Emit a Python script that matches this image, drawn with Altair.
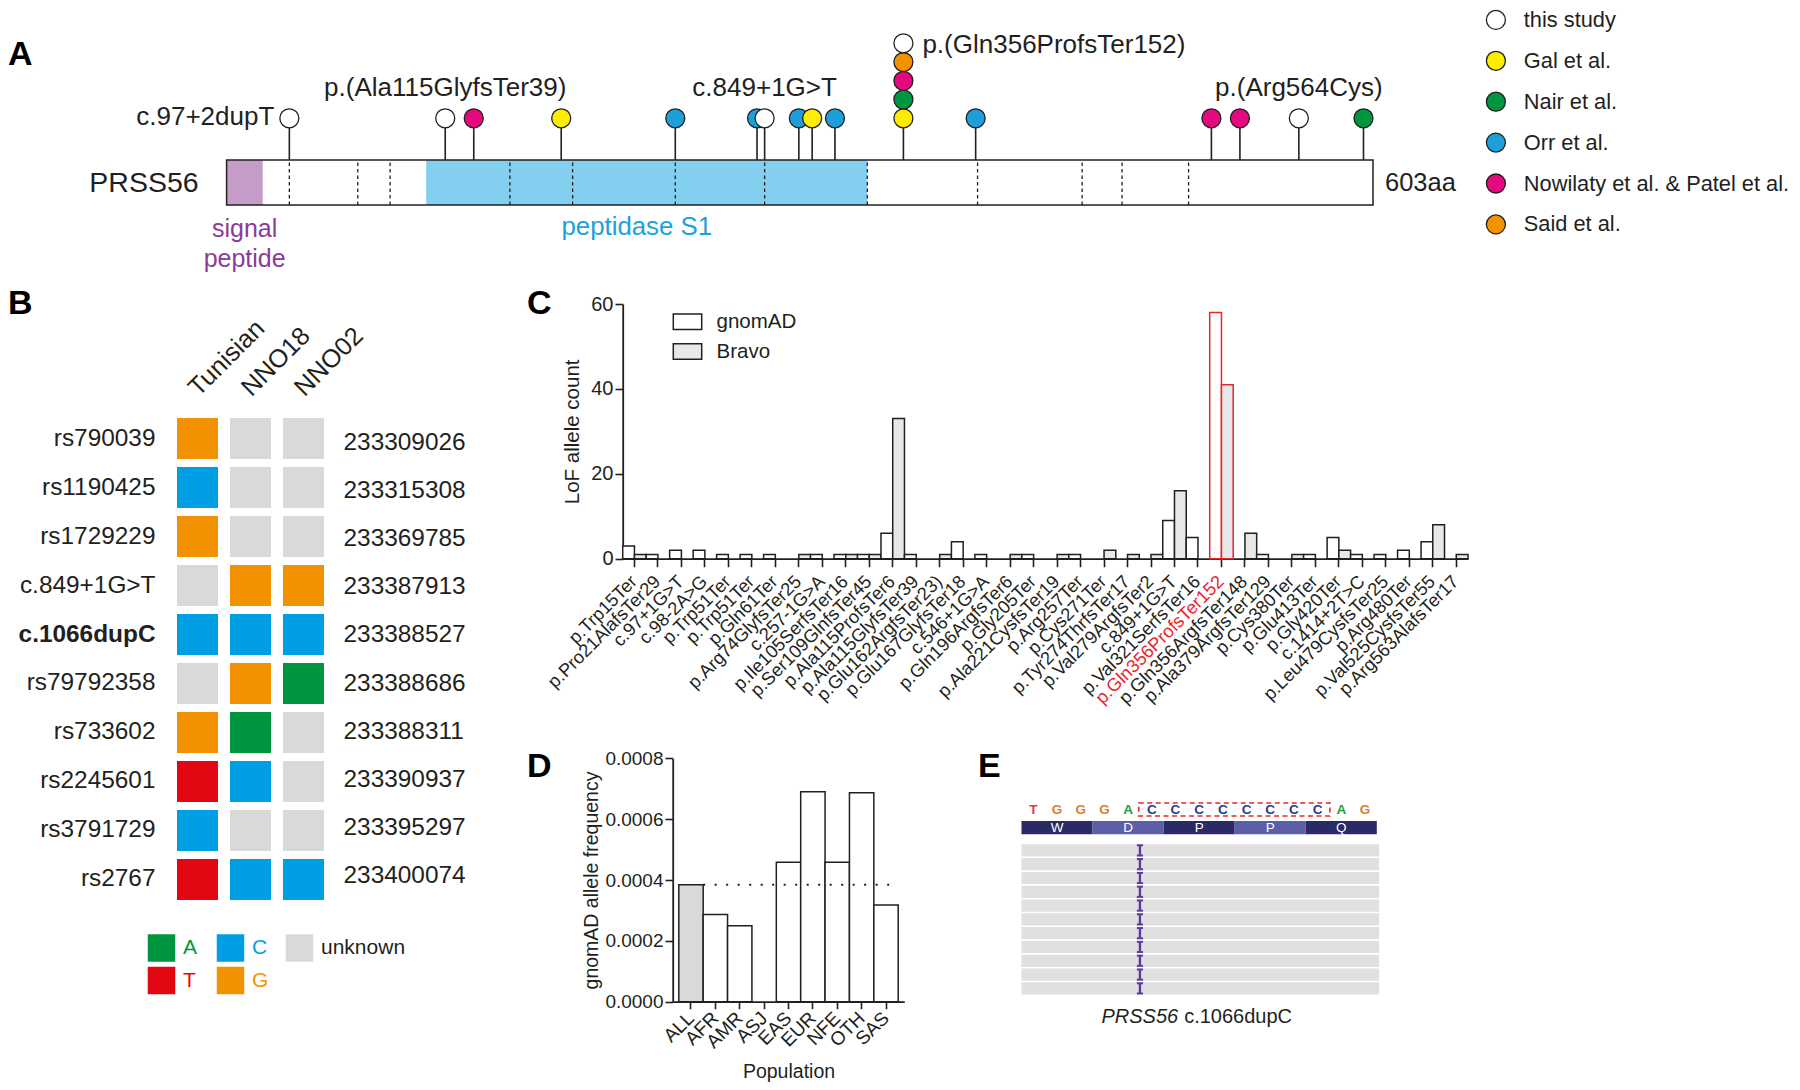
import altair as alt
import pandas as pd

FONT = "Liberation Sans"
INK = "#231F20"
RED = "#E8262A"

# ======================= DATA =======================
# ---- Panel A: PRSS56 protein (603 aa) and reported variants ----
PROTEIN_LEN = 603
signal_peptide = [0, 19]
peptidase_s1 = [105, 337]
exon_boundaries = [33, 69, 86, 149, 182, 236, 283, 337, 395, 450, 471, 506]
studies = ["this study", "Gal et al.", "Nair et al.", "Orr et al.",
           "Nowilaty et al. & Patel et al.", "Said et al."]
study_colors = ["#FFFFFF", "#FFED00", "#009640", "#1E9FD9", "#E5097F", "#F39200"]
variant_aa = [33, 115, 130, 176, 236, 279, 283, 301, 308, 320,
              356, 356, 356, 356, 356, 394, 518, 533, 564, 598]
variant_study = ["this study", "this study", "Nowilaty et al. & Patel et al.", "Gal et al.",
                 "Orr et al.", "Orr et al.", "this study", "Orr et al.", "Gal et al.", "Orr et al.",
                 "Gal et al.", "Nair et al.", "Nowilaty et al. & Patel et al.", "Said et al.", "this study",
                 "Orr et al.", "Nowilaty et al. & Patel et al.", "Nowilaty et al. & Patel et al.",
                 "this study", "Nair et al."]
variant_stack = [0, 0, 0, 0, 0, 0, 0, 0, 0, 0, 0, 1, 2, 3, 4, 0, 0, 0, 0, 0]
labelled_names = ["c.97+2dupT", "p.(Ala115GlyfsTer39)", "c.849+1G>T",
                  "p.(Gln356ProfsTer152)", "p.(Arg564Cys)"]
labelled_aa = [33, 115, 283, 356, 564]

# ---- Panel B: haplotypes ----
snp_ids = ["rs790039", "rs1190425", "rs1729229", "c.849+1G>T", "c.1066dupC",
           "rs79792358", "rs733602", "rs2245601", "rs3791729", "rs2767"]
snp_positions = ["233309026", "233315308", "233369785", "233387913", "233388527",
                 "233388686", "233388311", "233390937", "233395297", "233400074"]
samples = ["Tunisian", "NNO18", "NNO02"]
geno_tunisian = ["G", "C", "G", "unknown", "C", "unknown", "G", "T", "C", "T"]
geno_nno18 = ["unknown", "unknown", "unknown", "G", "C", "G", "A", "C", "unknown", "C"]
geno_nno02 = ["unknown", "unknown", "unknown", "G", "C", "A", "unknown", "unknown", "unknown", "C"]
allele_keys = ["A", "C", "unknown", "T", "G"]
allele_fill = ["#009640", "#009FE3", "#D9D9D9", "#E30613", "#F39200"]
allele_text = ["#009640", "#009FE3", INK, "#E30613", "#F39200"]

# ---- Panel C: LoF allele counts ----
c_variants = ["p.Trp15Ter", "p.Pro21AlafsTer29", "c.97+1G>T", "c.98-2A>G", "p.Trp51Ter",
              "p.Trp51Ter ", "p.Gln61Ter", "p.Arg74GlyfsTer25", "c.257-1G>A", "p.Ile105SerfsTer16",
              "p.Ser109GlnfsTer45", "p.Ala115ProfsTer6", "p.Ala115GlyfsTer39", "p.Glu162ArgfsTer23)",
              "p.Glu167GlyfsTer18", "c.546+1G>A", "p.Gln196ArgfsTer6", "p.Gly205Ter",
              "p.Ala221CysfsTer19", "p.Arg257Ter", "p.Cys271Ter", "p.Tyr274ThrfsTer17",
              "p.Val279ArgfsTer2", "c.849+1G>T", "p.Val321SerfsTer16", "p.Gln356ProfsTer152",
              "p.Gln356ArgfsTer148", "p.Ala379ArgfsTer129", "p.Cys380Ter", "p.Glu413Ter",
              "p.Gly420Ter", "c.1414+2T>C", "p.Leu479CysfsTer25", "p.Arg480Ter",
              "p.Val525CysfsTer55", "p.Arg563AlafsTer17"]
c_gnomad = [3, 1, 2, 2, 1, 1, 1, 0, 1, 1, 1, 6, 1, 0, 4, 1, 0, 1, 0, 1,
            0, 0, 0, 9, 5, 58, 0, 1, 0, 1, 5, 1, 1, 2, 4, 0]
c_bravo = [1, 0, 0, 0, 0, 0, 0, 1, 0, 1, 1, 33, 0, 1, 0, 0, 1, 0, 1, 0,
           2, 1, 1, 16, 0, 41, 6, 0, 1, 0, 2, 0, 0, 0, 8, 1]
c_sources = ["gnomAD", "Bravo"]
HIGHLIGHT = "p.Gln356ProfsTer152"

# ---- Panel D: gnomAD allele frequency per population ----
populations = ["ALL", "AFR", "AMR", "ASJ", "EAS", "EUR", "NFE", "OTH", "SAS"]
gnomad_af = [0.000384, 0.000287, 0.000250, 0.0, 0.000458, 0.000690, 0.000458, 0.000687, 0.000318]

# ---- Panel E: read pile-up ----
ref_seq = list("TGGGACCCCCCCCAG")
codons = ["W", "D", "P", "P", "Q"]
n_reads = 11
insertion_after = 4
base_colors = {"T": "#E53A32", "G": "#DD8027", "A": "#1E9E46", "C": "#2B3A95"}


def qscale(domain, rng):
    return alt.Scale(domain=domain, range=rng, nice=False, zero=False)


# ======================= PANEL A =======================
AX = qscale([0, PROTEIN_LEN], [218.6, 1365.0])
AY = qscale([0, 197], [197, 0])
BAR_H, HEAD_V, STACK_STEP = 45, 86.7, 18.75


def a_band(start, end, **mark):
    return alt.Chart(pd.DataFrame({"start": [start], "end": [end]})).mark_rect(**mark).encode(
        x=alt.X("start:Q", scale=AX, axis=None), x2="end:Q",
        y=alt.YDatum(0, scale=AY, axis=None), y2=alt.Y2Datum(BAR_H))


def a_text(text, x, v, size=26, color=INK, **mark):
    return alt.Chart(pd.DataFrame({"t": [text]})).mark_text(
        font=FONT, fontSize=size, color=color, baseline="middle", **mark).encode(
        text="t:N", x=alt.XDatum(x, scale=AX, axis=None), y=alt.YDatum(v, scale=AY, axis=None))


protein_bg = a_band(0, PROTEIN_LEN, fill="#FFFFFF")
sig_rect = a_band(signal_peptide[0], signal_peptide[1], fill="#C59BC8")
s1_rect = a_band(peptidase_s1[0], peptidase_s1[1], fill="#83CFEF")
outline = a_band(0, PROTEIN_LEN, fillOpacity=0, stroke=INK, strokeWidth=1.5)
exons = alt.Chart(pd.DataFrame({"aa": exon_boundaries})).mark_rule(
    color=INK, strokeWidth=1.3, strokeDash=[3.5, 3]).encode(
    x=alt.X("aa:Q", scale=AX, axis=None), y=alt.YDatum(0, scale=AY, axis=None), y2=alt.Y2Datum(BAR_H))
stems = alt.Chart(pd.DataFrame({"aa": sorted(set(variant_aa))})).mark_rule(color=INK, strokeWidth=1.6).encode(
    x=alt.X("aa:Q", scale=AX, axis=None), y=alt.YDatum(BAR_H, scale=AY, axis=None), y2=alt.Y2Datum(HEAD_V))
head_legend = alt.Legend(title=None, orient="none", legendX=1477, legendY=1, direction="vertical",
                         symbolType="circle", symbolSize=361, symbolStrokeColor=INK, symbolStrokeWidth=1.3,
                         symbolOpacity=1, labelFont=FONT, labelFontSize=21.8, labelColor=INK,
                         labelOffset=17, labelLimit=500, rowPadding=15.9, padding=0)
var_df = pd.DataFrame({"aa": variant_aa, "study": variant_study, "stack": variant_stack})
heads = alt.Chart(var_df).transform_calculate(v=f"{HEAD_V} + datum.stack * {STACK_STEP}").mark_point(
    shape="circle", filled=True, size=361, opacity=1, stroke=INK, strokeWidth=1.3).encode(
    x=alt.X("aa:Q", scale=AX, axis=None), y=alt.Y("v:Q", scale=AY, axis=None),
    fill=alt.Fill("study:N", scale=alt.Scale(domain=studies, range=study_colors), legend=head_legend))

label_layout = {  # align, dx (px), height above the head row (px)
    "c.97+2dupT": ("right", -15, 1.6),
    "p.(Ala115GlyfsTer39)": ("center", 0, 30),
    "c.849+1G>T": ("center", 0, 30),
    "p.(Gln356ProfsTer152)": ("left", 19, 73.3),
    "p.(Arg564Cys)": ("center", 0, 30),
}
a_labels = []
for name, aa in zip(labelled_names, labelled_aa):
    align, dx, up = label_layout[name]
    a_labels.append(a_text(name, aa, HEAD_V + up, size=26, align=align, dx=dx))

a_labels += [
    a_text("PRSS56", 0, BAR_H / 2, size=28.5, align="right", dx=-28),
    a_text("603aa", PROTEIN_LEN, BAR_H / 2, size=25.5, align="left", dx=12),
    a_text("signal", sum(signal_peptide) / 2, -23.5, size=25, color="#8E3A97", align="center"),
    a_text("peptide", sum(signal_peptide) / 2, -53.5, size=25, color="#8E3A97", align="center"),
    a_text("peptidase S1", sum(peptidase_s1) / 2, -21.7, size=25.8, color="#1BA1DB", align="center", dx=-10),
]
panel_a = alt.layer(protein_bg, sig_rect, s1_rect, exons, outline, stems, heads, *a_labels)

# ======================= PANEL B =======================
BX = alt.Scale(domain=samples, range=[169, 316], paddingInner=0.226, paddingOuter=0)
BY = alt.Scale(domain=snp_ids, range=[410, 892], paddingInner=0.163, paddingOuter=0)
BY2 = alt.Scale(domain=snp_positions, range=[410, 892], paddingInner=0.163, paddingOuter=0)
cells_df = pd.DataFrame([{"snp": s, "sample": smp, "allele": a}
                         for smp, col in zip(samples, [geno_tunisian, geno_nno18, geno_nno02])
                         for s, a in zip(snp_ids, col)])
b_cells = alt.Chart(cells_df).mark_rect().encode(
    x=alt.X("sample:N", scale=BX, axis=alt.Axis(
        orient="top", offset=-410, labelAngle=-45, labelAlign="left", labelBaseline="alphabetic",
        labelPadding=21, labelOffset=1, labelFontSize=25.5, domain=False, ticks=False, tickSize=0,
        title=None, labelLimit=400)),
    y=alt.Y("snp:N", scale=BY, axis=alt.Axis(
        orient="left", offset=-169, labelPadding=22, labelFontSize=24.4, domain=False, ticks=False,
        tickSize=0, title=None, labelLimit=400,
        labelFontWeight={"condition": {"test": "datum.value === 'c.1066dupC'", "value": "bold"},
                         "value": "normal"})),
    fill=alt.Fill("allele:N", scale=alt.Scale(domain=allele_keys, range=allele_fill), legend=None))
b_pos = alt.Chart(pd.DataFrame({"pos": snp_positions})).mark_point(opacity=0).encode(
    x=alt.value(200),
    y=alt.Y("pos:N", scale=BY2, axis=alt.Axis(
        orient="right", offset=-1468, labelPadding=19, labelFontSize=24.4, domain=False, ticks=False,
        tickSize=0, title=None, labelLimit=400)))
leg_df = pd.DataFrame({"key": allele_keys,
                       "col": [i % 3 for i in range(len(allele_keys))],
                       "row": [i // 3 for i in range(len(allele_keys))]})
LX = qscale([0, 2], [153.5, 291.5])
LY = qscale([0, 1], [940, 972.5])
b_leg_sq = alt.Chart(leg_df).mark_square(size=756, opacity=1).encode(
    x=alt.X("col:Q", scale=LX, axis=None), y=alt.Y("row:Q", scale=LY, axis=None),
    fill=alt.Fill("key:N", scale=alt.Scale(domain=allele_keys, range=allele_fill), legend=None))
b_leg_tx = alt.Chart(leg_df).mark_text(font=FONT, fontSize=21, align="left", baseline="middle", dx=21.5).encode(
    x=alt.X("col:Q", scale=LX, axis=None), y=alt.Y("row:Q", scale=LY, axis=None), text="key:N",
    fill=alt.Fill("key:N", scale=alt.Scale(domain=allele_keys, range=allele_text), legend=None))
b_leg = alt.layer(b_leg_sq, b_leg_tx).resolve_scale(fill="independent")

# ======================= PANEL C =======================
c_rows = []
for v, g, b in zip(c_variants, c_gnomad, c_bravo):
    c_rows.append({"variant": v, "source": "gnomAD", "count": g})
    c_rows.append({"variant": v, "source": "Bravo", "count": b})
c_df = pd.DataFrame(c_rows)
CX = alt.Scale(domain=c_variants, range=[614.7, 1460], paddingInner=0, paddingOuter=0)
CY = qscale([0, 60], [550.7, 296])
c_legend = alt.Legend(title=None, orient="none", legendX=664.5, legendY=298.7, direction="vertical",
                      symbolType="M-1,-0.546L1,-0.546L1,0.546L-1,0.546Z", symbolSize=807,
                      symbolStrokeColor=INK, symbolStrokeWidth=1.5, symbolOpacity=1,
                      labelFont=FONT, labelFontSize=20.5, labelColor=INK, labelOffset=14,
                      rowPadding=3.8, padding=0)
panel_c = alt.Chart(c_df).transform_filter("datum.count > 0").mark_bar(strokeWidth=1.5).encode(
    x=alt.X("variant:N", scale=CX, axis=alt.Axis(
        orient="bottom", offset=550.7 - 1074, labelAngle=-45, labelAlign="right", labelBaseline="middle",
        labelFontSize=18.3, labelPadding=12, tickSize=8, tickWidth=1.6, domainWidth=1.8,
        labelOverlap=False, labelLimit=400, title=None,
        labelColor={"condition": {"test": f"datum.value === '{HIGHLIGHT}'", "value": RED}, "value": INK})),
    xOffset=alt.XOffset("source:N", scale=alt.Scale(domain=c_sources, paddingInner=0, paddingOuter=0)),
    y=alt.Y("count:Q", scale=CY, axis=alt.Axis(
        orient="left", offset=-614.7, values=[0, 20, 40, 60], labelFontSize=20, tickSize=7.7,
        tickWidth=1.6, domainWidth=1.8, labelPadding=2, title="LoF allele count", titleFontSize=20.5,
        titleFontWeight="normal", titleX=-50.2, titleBaseline="middle")),
    fill=alt.Fill("source:N", scale=alt.Scale(domain=c_sources, range=["#FFFFFF", "#E8E8E8"]), legend=c_legend),
    stroke=alt.condition(f"datum.variant !== '{HIGHLIGHT}'", alt.value(INK), alt.value(RED)))

# ======================= PANEL D =======================
d_df = pd.DataFrame({"population": populations, "af": gnomad_af})
D_RANGE = [664.7, 896.3]
DX = alt.Scale(domain=populations, range=D_RANGE, paddingInner=0, paddingOuter=0.25)
DXI = qscale([-0.25, len(populations) + 0.25], D_RANGE)   # same bands, counted by index
DY = qscale([0, 0.0008], [993.7, 750.3])
d_xaxis = alt.Axis(orient="bottom", offset=993.7 - 1074, labelAngle=-45, labelAlign="right",
                   labelBaseline="middle", labelFontSize=19, labelPadding=6, tickSize=7, tickWidth=1.6,
                   domainWidth=1.8, labelOverlap=False, title="Population", titleFontSize=19.5,
                   titleFontWeight="normal", titleY=69.5, titleBaseline="middle")
d_yaxis = alt.Axis(orient="left", offset=-664.7, values=[0, 0.0002, 0.0004, 0.0006, 0.0008], format=".4f",
                   labelFontSize=19, tickSize=7.7, tickWidth=1.6, domainWidth=1.8, labelPadding=2,
                   title="gnomAD allele frequency", titleFontSize=19.5, titleFontWeight="normal",
                   titleX=-81, titleBaseline="middle")
d_bars = alt.Chart(d_df).transform_filter("datum.af > 0").mark_bar(stroke=INK, strokeWidth=1.5).encode(
    x=alt.X("population:N", scale=DX, axis=d_xaxis),
    y=alt.Y("af:Q", scale=DY, axis=d_yaxis),
    fill=alt.condition("datum.population === 'ALL'", alt.value("#D9D9D9"), alt.value("#FFFFFF")))
all_idx = populations.index("ALL")
d_ref = alt.Chart(d_df).transform_filter("datum.population === 'ALL'").mark_rule(
    color=INK, strokeWidth=2, strokeDash=[2, 9.5]).encode(
    x=alt.XDatum(all_idx + 1, scale=DXI, axis=None),
    x2=alt.X2Datum(len(populations)),
    y=alt.Y("af:Q", scale=DY, axis=d_yaxis))
panel_d = alt.layer(d_bars, d_ref).resolve_scale(x="independent")

# ======================= PANEL E =======================
EX = qscale([-0.5, 14.5], [1013.5, 1368.8])
EY = qscale([0, 11], [836.3, 988.1])
reads_df = pd.DataFrame({"read": list(range(n_reads))})
e_reads = alt.Chart(reads_df).transform_calculate(top="datum.read", bot="datum.read + 0.884").mark_rect(
    fill="#E0E0E0").encode(
    x=alt.XDatum(-0.5, scale=EX, axis=None), x2=alt.X2Datum(14.6),
    y=alt.Y("top:Q", scale=EY, axis=None), y2="bot:Q")
codon_df = pd.DataFrame({"aa": codons, "k": list(range(len(codons)))})
e_track = alt.Chart(codon_df).transform_calculate(s="3*datum.k - 0.5", e="3*datum.k + 2.5").mark_rect().encode(
    x=alt.X("s:Q", scale=EX, axis=None), x2="e:Q",
    y=alt.YDatum(-1.69, scale=EY, axis=None), y2=alt.Y2Datum(-0.72),
    fill=alt.condition("datum.k % 2 === 0", alt.value("#2A2B66"), alt.value("#5C5EA8")))
e_track_txt = alt.Chart(codon_df).transform_calculate(m="3*datum.k + 1").mark_text(
    font=FONT, fontSize=13.5, color="#FFFFFF", baseline="middle").encode(
    x=alt.X("m:Q", scale=EX, axis=None), y=alt.YDatum(-1.2, scale=EY, axis=None), text="aa:N")
seq_df = pd.DataFrame({"base": ref_seq, "i": list(range(len(ref_seq)))})
e_seq = alt.Chart(seq_df).mark_text(font=FONT, fontSize=13.5, fontWeight="bold", baseline="middle").encode(
    x=alt.X("i:Q", scale=EX, axis=None), y=alt.YDatum(-2.5, scale=EY, axis=None), text="base:N",
    fill=alt.Fill("base:N", scale=alt.Scale(domain=list(base_colors), range=list(base_colors.values())),
                  legend=None))
c_idx = [i for i, b in enumerate(ref_seq) if b == "C"]
e_box = alt.Chart(pd.DataFrame({"s": [min(c_idx) - 0.55], "e": [max(c_idx) + 0.52]})).mark_rect(
    fillOpacity=0, stroke=RED, strokeWidth=1.6, strokeDash=[5, 3.5]).encode(
    x=alt.X("s:Q", scale=EX, axis=None), x2="e:Q",
    y=alt.YDatum(-2.99, scale=EY, axis=None), y2=alt.Y2Datum(-2.05))
INS_X = insertion_after + 0.5
INS_COLOR = "#5A3CA0"
ins_df = reads_df.copy()
e_ins_stem = alt.Chart(ins_df).transform_calculate(t="datum.read + 0.07", b="datum.read + 0.81").mark_rule(
    color=INS_COLOR, strokeWidth=2.4).encode(
    x=alt.XDatum(INS_X, scale=EX, axis=None), y=alt.Y("t:Q", scale=EY, axis=None), y2="b:Q")
e_ins_top = alt.Chart(ins_df).transform_calculate(t="datum.read + 0.07").mark_rule(
    color=INS_COLOR, strokeWidth=2).encode(
    x=alt.XDatum(INS_X - 0.13, scale=EX, axis=None), x2=alt.X2Datum(INS_X + 0.13),
    y=alt.Y("t:Q", scale=EY, axis=None))
e_ins_bot = alt.Chart(ins_df).transform_calculate(b="datum.read + 0.81").mark_rule(
    color=INS_COLOR, strokeWidth=2).encode(
    x=alt.XDatum(INS_X - 0.13, scale=EX, axis=None), x2=alt.X2Datum(INS_X + 0.13),
    y=alt.Y("b:Q", scale=EY, axis=None))
cap_df = pd.DataFrame({"gene": ["PRSS56"], "var": ["c.1066dupC"]})
e_cap1 = alt.Chart(cap_df).mark_text(font=FONT, fontSize=20, fontStyle="italic", color=INK, align="right",
                                     baseline="middle", dx=-21).encode(
    x=alt.XDatum(7, scale=EX, axis=None), y=alt.YDatum(12.49, scale=EY, axis=None), text="gene:N")
e_cap2 = alt.Chart(cap_df).mark_text(font=FONT, fontSize=20, color=INK, align="left",
                                     baseline="middle", dx=-15).encode(
    x=alt.XDatum(7, scale=EX, axis=None), y=alt.YDatum(12.49, scale=EY, axis=None), text="var:N")
panel_e = alt.layer(e_reads, e_track, e_track_txt, e_seq, e_box, e_ins_stem, e_ins_top, e_ins_bot,
                    e_cap1, e_cap2)

# ======================= PANEL LETTERS =======================
letters = []
for letter, lx, ly in [("A", 0, 47), ("B", 0, 295.5), ("C", 519, 296), ("D", 519, 759), ("E", 970, 759)]:
    letters.append(alt.Chart(pd.DataFrame({"t": [letter]})).mark_text(
        font=FONT, fontSize=34, fontWeight="bold", color="#000000", align="left", baseline="middle").encode(
        text="t:N", x=alt.value(lx), y=alt.value(ly)))

chart = alt.layer(panel_a, b_cells, b_pos, b_leg, panel_c, panel_d, panel_e, *letters).resolve_scale(
    x="independent", y="independent", fill="independent", xOffset="independent", stroke="independent"
).properties(
    width=1784, height=1074, autosize=alt.AutoSizeParams(type="none"), padding=0
).configure_view(stroke=None).configure_axis(
    labelFont=FONT, titleFont=FONT, labelColor=INK, titleColor=INK, domainColor=INK, tickColor=INK, grid=False
).configure_legend(labelFont=FONT)

chart.save("out.html", embed_options={"renderer": "svg", "actions": False})
